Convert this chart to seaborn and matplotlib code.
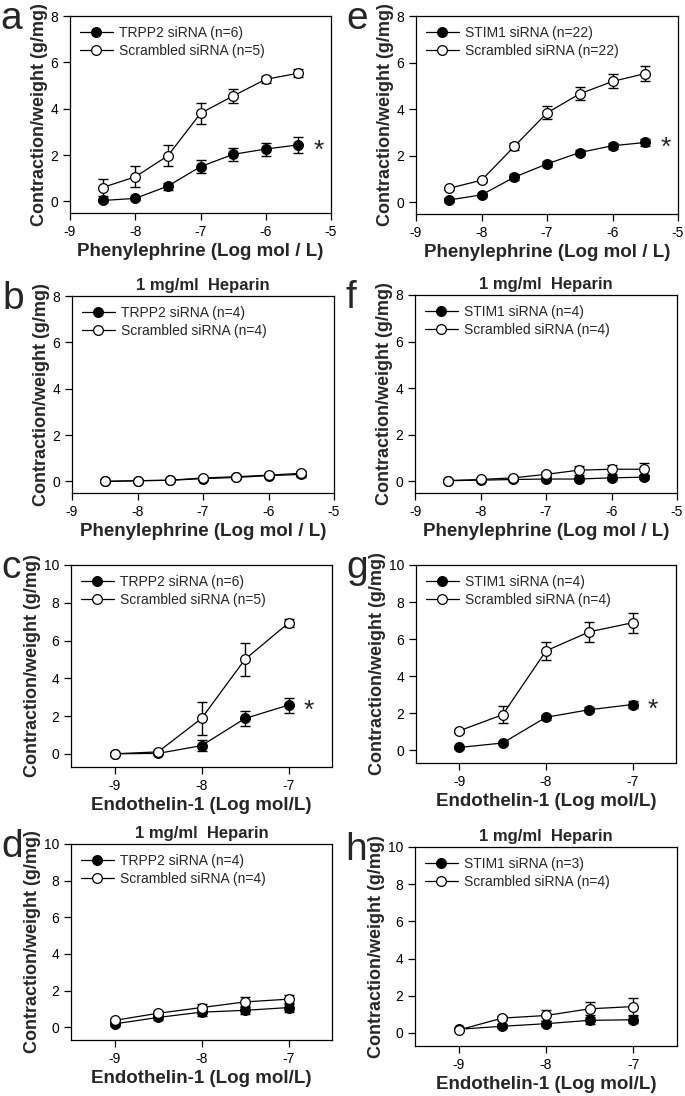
import numpy as np
import matplotlib
matplotlib.use("Agg")
import matplotlib.pyplot as plt
import seaborn as sns

sns.set_style("ticks")
plt.rcParams['font.family'] = ['Liberation Sans', 'DejaVu Sans']
plt.rcParams['axes.unicode_minus'] = False

# ---- data ----
pe_dose = [-8.5, -8, -7.5, -7, -6.5, -6, -5.5]
et_dose = [-9, -8.5, -8, -7.5, -7]

# a: TRPP2, phenylephrine
a_kd = [0.04, 0.13, 0.66, 1.5, 2.03, 2.26, 2.44]
a_kd_err = [0.06, 0.06, 0.15, 0.27, 0.27, 0.28, 0.36]
a_scr = [0.6, 1.06, 1.97, 3.8, 4.55, 5.27, 5.53]
a_scr_err = [0.36, 0.45, 0.46, 0.44, 0.29, 0.15, 0.17]

# b: TRPP2, phenylephrine + heparin
b_kd = [0.0, 0.03, 0.05, 0.12, 0.17, 0.25, 0.3]
b_kd_err = [0.03, 0.03, 0.04, 0.05, 0.05, 0.07, 0.1]
b_scr = [0.0, 0.03, 0.05, 0.15, 0.2, 0.27, 0.35]
b_scr_err = [0.03, 0.03, 0.04, 0.05, 0.06, 0.08, 0.12]

# c: TRPP2, endothelin-1
c_kd = [0.0, 0.02, 0.43, 1.87, 2.58]
c_kd_err = [0.03, 0.05, 0.3, 0.4, 0.4]
c_scr = [0.0, 0.1, 1.87, 5.0, 6.93]
c_scr_err = [0.03, 0.08, 0.88, 0.87, 0.23]

# d: TRPP2, endothelin-1 + heparin
d_kd = [0.18, 0.53, 0.82, 0.92, 1.07]
d_kd_err = [0.1, 0.15, 0.2, 0.2, 0.25]
d_scr = [0.37, 0.76, 1.07, 1.38, 1.53]
d_scr_err = [0.1, 0.15, 0.22, 0.25, 0.25]

# e: STIM1, phenylephrine
e_kd = [0.1, 0.32, 1.08, 1.65, 2.14, 2.43, 2.57]
e_kd_err = [0.1, 0.1, 0.12, 0.13, 0.12, 0.12, 0.15]
e_scr = [0.6, 0.95, 2.4, 3.84, 4.66, 5.19, 5.53]
e_scr_err = [0.06, 0.06, 0.15, 0.28, 0.28, 0.3, 0.32]

# f: STIM1, phenylephrine + heparin
f_kd = [0.03, 0.05, 0.08, 0.1, 0.1, 0.15, 0.18]
f_kd_err = [0.04, 0.05, 0.06, 0.07, 0.08, 0.08, 0.1]
f_scr = [0.03, 0.08, 0.15, 0.3, 0.48, 0.52, 0.52]
f_scr_err = [0.04, 0.05, 0.07, 0.12, 0.2, 0.2, 0.26]

# g: STIM1, endothelin-1
g_kd = [0.14, 0.38, 1.77, 2.18, 2.46]
g_kd_err = [0.06, 0.1, 0.15, 0.15, 0.2]
g_scr = [1.04, 1.91, 5.36, 6.39, 6.88]
g_scr_err = [0.1, 0.45, 0.5, 0.54, 0.55]

# h: STIM1, endothelin-1 + heparin
h_kd = [0.2, 0.36, 0.5, 0.68, 0.71]
h_kd_err = [0.05, 0.1, 0.12, 0.2, 0.2]
h_scr = [0.16, 0.8, 0.94, 1.3, 1.42]
h_scr_err = [0.08, 0.12, 0.3, 0.35, 0.45]

W, H = 685, 1096
fig = plt.figure(figsize=(W / 100, H / 100), dpi=100)


def rect(l, r, t, b):
    return [l / W, 1 - b / H, (r - l) / W, (b - t) / H]


def draw_panel(box, letter, x, kd, kd_err, scr, scr_err, kd_label, scr_label,
               agonist, heparin=False, star=False):
    ax = fig.add_axes(rect(*box))
    ax.errorbar(x, kd, yerr=kd_err, fmt='none', ecolor='black', elinewidth=1,
                capsize=3.5, capthick=1, zorder=2)
    ax.errorbar(x, scr, yerr=scr_err, fmt='none', ecolor='black', elinewidth=1,
                capsize=3.5, capthick=1, zorder=2)
    sns.lineplot(x=x, y=kd, ax=ax, color='black', lw=0.9, marker='o', markersize=7,
                 markerfacecolor='black', markeredgecolor='black', markeredgewidth=0.9,
                 label=kd_label, zorder=3)
    sns.lineplot(x=x, y=scr, ax=ax, color='black', lw=0.9, marker='o', markersize=7,
                 markerfacecolor='white', markeredgecolor='black', markeredgewidth=0.9,
                 label=scr_label, zorder=4)

    if agonist == 'pe':
        ax.set_xlim(-9, -5)
        ax.set_ylim(-0.5, 8)
        ax.set_xticks([-9, -8, -7, -6, -5])
        ax.set_yticks([0, 2, 4, 6, 8])
        ax.set_xlabel("Phenylephrine (Log mol / L)", fontsize=13.5, fontweight='bold', labelpad=3)
    else:
        ax.set_xlim(-9.5, -6.5)
        ax.set_ylim(-0.7, 10)
        ax.set_xticks([-9, -8, -7])
        ax.set_yticks([0, 2, 4, 6, 8, 10])
        ax.set_xlabel("Endothelin-1 (Log mol/L)", fontsize=13.5, fontweight='bold', labelpad=3)
    ax.set_ylabel("Contraction/weight (g/mg)", fontsize=13, fontweight='bold', labelpad=2)

    for s in ax.spines.values():
        s.set_linewidth(0.9)
        s.set_color('black')
        s.set_visible(True)
    ax.tick_params(direction='out', length=5, width=0.9, labelsize=10, colors='black',
                   top=False, right=False)

    ax.legend(loc='upper left', frameon=False, fontsize=10, handlelength=2.4,
              handletextpad=0.4, borderaxespad=0.3, labelspacing=0.3)

    if heparin:
        ax.set_title("1 mg/ml  Heparin", fontsize=12, fontweight='bold', pad=4)
    if star:
        ax.annotate("*", (x[-1], kd[-1]), xytext=(11, -4), textcoords='offset points',
                    fontsize=19, ha='left', va='center')

    fig.text(box[0] / W - 0.102, 1 - (box[2] + 3) / H, letter, fontsize=28,
             va='center', ha='left')
    return ax


draw_panel((70, 331, 16, 213), 'a', pe_dose, a_kd, a_kd_err, a_scr, a_scr_err,
           "TRPP2 siRNA (n=6)", "Scrambled siRNA (n=5)", 'pe', star=True)
draw_panel((72, 334, 296, 493), 'b', pe_dose, b_kd, b_kd_err, b_scr, b_scr_err,
           "TRPP2 siRNA (n=4)", "Scrambled siRNA (n=4)", 'pe', heparin=True)
draw_panel((71, 332, 565, 767), 'c', et_dose, c_kd, c_kd_err, c_scr, c_scr_err,
           "TRPP2 siRNA (n=6)", "Scrambled siRNA (n=5)", 'et', star=True)
draw_panel((71, 332, 844, 1040), 'd', et_dose, d_kd, d_kd_err, d_scr, d_scr_err,
           "TRPP2 siRNA (n=4)", "Scrambled siRNA (n=4)", 'et', heparin=True)
draw_panel((416, 678, 16, 214), 'e', pe_dose, e_kd, e_kd_err, e_scr, e_scr_err,
           "STIM1 siRNA (n=22)", "Scrambled siRNA (n=22)", 'pe', star=True)
draw_panel((415, 677, 295, 493), 'f', pe_dose, f_kd, f_kd_err, f_scr, f_scr_err,
           "STIM1 siRNA (n=4)", "Scrambled siRNA (n=4)", 'pe', heparin=True)
draw_panel((416, 676, 565, 763), 'g', et_dose, g_kd, g_kd_err, g_scr, g_scr_err,
           "STIM1 siRNA (n=4)", "Scrambled siRNA (n=4)", 'et', star=True)
draw_panel((415, 677, 847, 1046), 'h', et_dose, h_kd, h_kd_err, h_scr, h_scr_err,
           "STIM1 siRNA (n=3)", "Scrambled siRNA (n=4)", 'et', heparin=True)

fig.savefig("out.png", dpi=100)
